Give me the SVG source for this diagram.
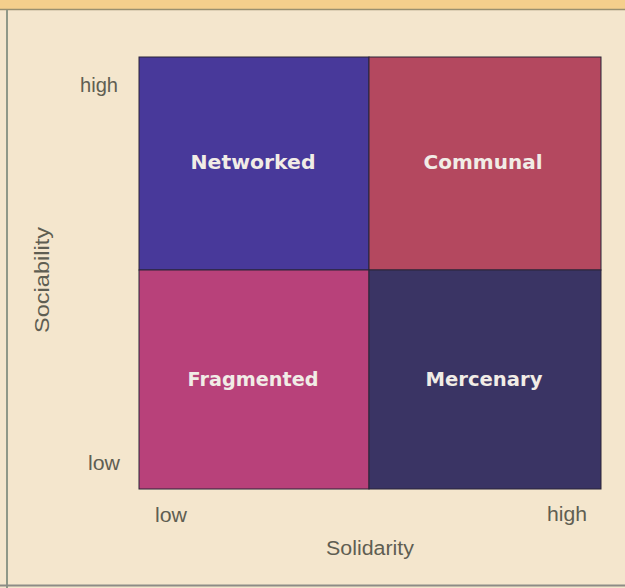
<svg xmlns="http://www.w3.org/2000/svg" width="625" height="588" viewBox="0 0 625 588">
<style>
.axis{font-family:"Liberation Sans",Arial,sans-serif;font-size:20px;fill:#5f5e52}
.cell{font-family:"DejaVu Sans","Liberation Sans",sans-serif;font-weight:bold;font-size:20px;fill:#f1ece6;text-anchor:middle}
.q{stroke:#2a2438;stroke-width:1}
</style>
<rect x="0" y="0" width="625" height="588" fill="#f4e6cd"/>
<rect x="0" y="0" width="625" height="9" fill="#f5cf8c"/>
<line x1="0" y1="9.5" x2="625" y2="9.5" stroke="#9a9070" stroke-width="1.5"/>
<line x1="7" y1="10" x2="7" y2="588" stroke="#8f9888" stroke-width="2"/>
<line x1="0" y1="585.5" x2="625" y2="585.5" stroke="#8c8c86" stroke-width="2"/>
<g id="networked">
<rect class="q" x="139" y="57" width="230" height="213" fill="#48399a"/>
<text class="cell" x="253" y="169" textLength="125" lengthAdjust="spacingAndGlyphs">Networked</text>
</g>
<g id="communal">
<rect class="q" x="369" y="57" width="232" height="213" fill="#b4485f"/>
<text class="cell" x="483" y="169" textLength="119" lengthAdjust="spacingAndGlyphs">Communal</text>
</g>
<g id="fragmented">
<rect class="q" x="139" y="270" width="230" height="219" fill="#b8417a"/>
<text class="cell" x="253" y="386" textLength="131" lengthAdjust="spacingAndGlyphs">Fragmented</text>
</g>
<g id="mercenary">
<rect class="q" x="369" y="270" width="232" height="219" fill="#3a3464"/>
<text class="cell" x="484" y="386" textLength="117" lengthAdjust="spacingAndGlyphs">Mercenary</text>
</g>
<g id="connectors"></g>
<g id="axes">
<text class="axis" x="80" y="92" textLength="38" lengthAdjust="spacingAndGlyphs">high</text>
<text class="axis" x="88" y="470" textLength="32" lengthAdjust="spacingAndGlyphs">low</text>
<text class="axis" x="155" y="522" textLength="32" lengthAdjust="spacingAndGlyphs">low</text>
<text class="axis" x="547" y="521" textLength="40" lengthAdjust="spacingAndGlyphs">high</text>
<text class="axis" x="370" y="555" text-anchor="middle" textLength="88" lengthAdjust="spacingAndGlyphs">Solidarity</text>
<text class="axis" transform="translate(49,280) rotate(-90)" text-anchor="middle" textLength="106" lengthAdjust="spacingAndGlyphs">Sociability</text>
</g>
</svg>
